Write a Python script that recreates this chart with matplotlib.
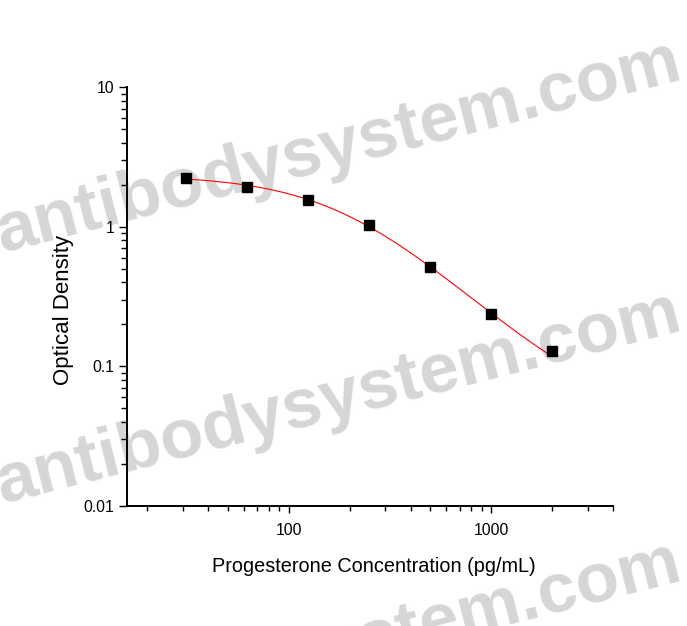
import numpy as np
import matplotlib
matplotlib.use("Agg")
import matplotlib.pyplot as plt
from matplotlib.ticker import LogLocator, NullFormatter

# standard curve points
conc = [31.25, 62.5, 125, 250, 500, 1000, 2000]
od = [2.23, 1.93, 1.56, 1.03, 0.52, 0.239, 0.130]

# 4PL fit parameters (top, slope, mid, bottom) as estimated from the drawn curve
fit_top, fit_slope, fit_mid, fit_bottom = 2.35, 1.45, 198.0, 0.04

x_ticks = [100, 1000]
x_labels = ["100", "1000"]
y_ticks = [0.01, 0.1, 1, 10]
y_labels = ["0.01", "0.1", "1", "10"]

fam = ["Liberation Sans", "DejaVu Sans"]

W, H = 687, 626
fig = plt.figure(figsize=(W / 100, H / 100), dpi=100)

# watermark, drawn behind the axes
for y_base in [78, 329, 579]:
    fig.text(685 / W, 1 - y_base / H, "antibodysystem.com", fontsize=51,
             fontweight="bold", family=fam, color="#d6d6d6",
             rotation=14.3, rotation_mode="anchor", ha="right",
             va="baseline", zorder=-5)

ax = fig.add_axes([127.5 / W, 1 - 506 / H, (613 - 127.5) / W, (506 - 87.3) / H])
ax.set_facecolor("none")
ax.set_xscale("log")
ax.set_yscale("log")
ax.set_xlim(16, 4000)
ax.set_ylim(0.01, 10)

xs = np.logspace(np.log10(conc[0]), np.log10(conc[-1]), 200)
fit = fit_bottom + (fit_top - fit_bottom) / (1 + (xs / fit_mid) ** fit_slope)
ax.plot(xs, fit, color="red", lw=0.8, zorder=2)
ax.plot(conc, od, ls="none", marker="s", ms=6.5, color="black", zorder=3)

for side in ["top", "right"]:
    ax.spines[side].set_visible(False)
for side in ["left", "bottom"]:
    ax.spines[side].set_linewidth(1.4)

ax.set_xticks(x_ticks, x_labels)
ax.set_yticks(y_ticks, y_labels)
ax.xaxis.set_minor_locator(LogLocator(base=10, subs=np.arange(2, 10)))
ax.yaxis.set_minor_locator(LogLocator(base=10, subs=np.arange(2, 10)))
ax.xaxis.set_minor_formatter(NullFormatter())
ax.yaxis.set_minor_formatter(NullFormatter())

ax.tick_params(axis="x", which="major", direction="out", length=5, width=1, pad=7.5)
ax.tick_params(axis="x", which="minor", direction="out", length=3.3, width=1)
ax.tick_params(axis="y", which="major", direction="out", length=6, width=1, pad=3.5)
ax.tick_params(axis="y", which="minor", direction="out", length=4, width=1)
for lab in ax.get_xticklabels() + ax.get_yticklabels():
    lab.set_family(fam)
    lab.set_fontsize(11.3)
    lab.set_color("black")

fig.text(374 / W, 1 - 572 / H, "Progesterone Concentration (pg/mL)",
         family=fam, fontsize=14.3, ha="center", va="baseline")
fig.text(63.5 / W, 1 - 310 / H, "Optical Density", family=fam,
         fontsize=16, rotation=90, ha="center", va="center")

fig.savefig("out.png", dpi=100)
